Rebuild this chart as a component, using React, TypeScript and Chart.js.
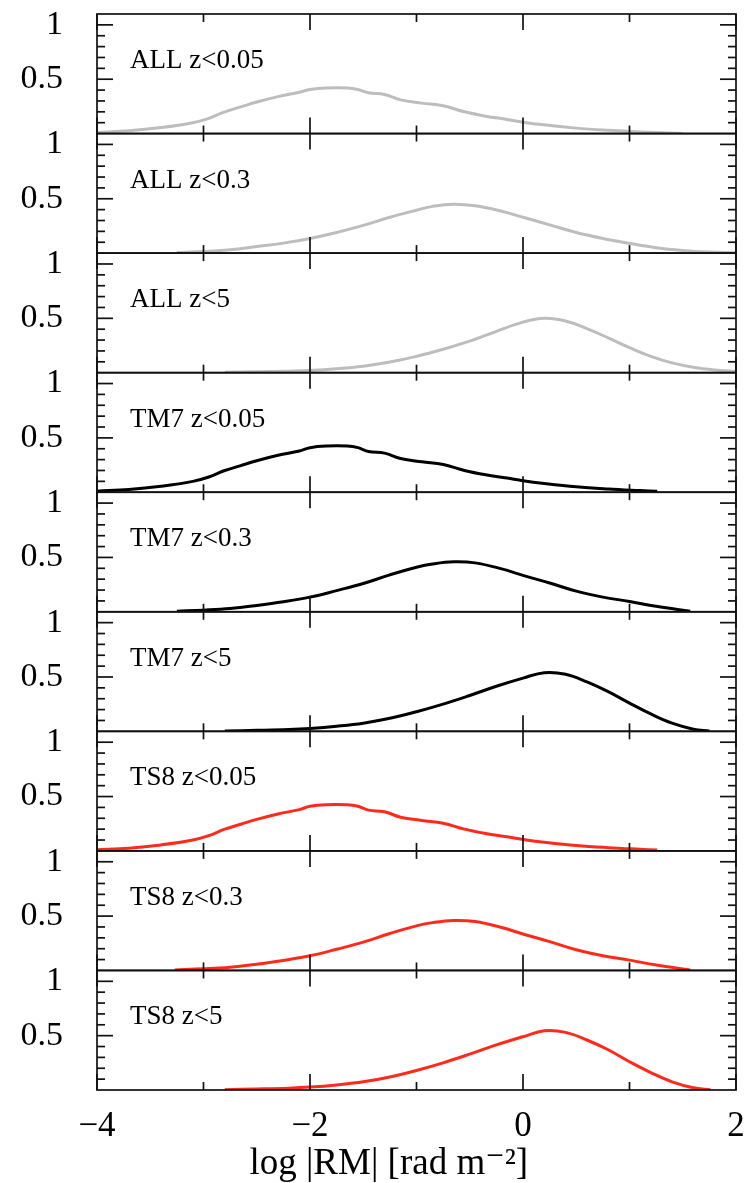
import React, { useEffect, useRef } from 'react';
import { Chart, registerables } from 'chart.js';

Chart.register(...registerables);

// ---- axis ticks ----
const xTickValues = [-4, -2, 0, 2];
const xTickLabels = ['−4', '−2', '0', '2'];
const xMinorTickValues = [-3, -1, 1];
const yTickValues = [0.5, 1];
const yTickLabels = ['0.5', '1'];
const yMinorTickValues = [0.1, 0.2, 0.3, 0.4, 0.6, 0.7, 0.8, 0.9];
const xTitle = 'log |RM| [rad m⁻²]\u00a0\u00a0\u00a0\u00a0\u00a0\u00a0';

// ---- panels ----
const panelLabels = [
  'ALL z<0.05', 'ALL z<0.3', 'ALL z<5',
  'TM7 z<0.05', 'TM7 z<0.3', 'TM7 z<5',
  'TS8 z<0.05', 'TS8 z<0.3', 'TS8 z<5',
];
const panelColors = [
  '#bdbdbd', '#bdbdbd', '#bdbdbd',
  '#000000', '#000000', '#000000',
  '#ff2a1a', '#ff2a1a', '#ff2a1a',
];

// ---- series: ALL ----
const allZ005X = [-4.0, -3.7, -3.4, -3.1, -2.95, -2.8, -2.65, -2.5, -2.3, -2.1, -2.0, -1.85, -1.65, -1.55, -1.45, -1.3, -1.15, -0.95, -0.75, -0.55, -0.35, -0.15, 0.0, 0.2, 0.5, 0.8, 1.1, 1.5];
const allZ005Y = [0.01, 0.025, 0.055, 0.1, 0.14, 0.2, 0.245, 0.29, 0.34, 0.38, 0.405, 0.42, 0.42, 0.405, 0.375, 0.36, 0.31, 0.28, 0.255, 0.2, 0.16, 0.13, 0.105, 0.08, 0.05, 0.03, 0.015, 0.0];

const allZ03X = [-3.25, -3.0, -2.75, -2.5, -2.25, -2.0, -1.75, -1.5, -1.25, -1.0, -0.85, -0.65, -0.45, -0.2, 0.0, 0.25, 0.5, 0.75, 1.0, 1.25, 1.5, 1.75, 2.0];
const allZ03Y = [0.005, 0.015, 0.03, 0.06, 0.092, 0.135, 0.19, 0.255, 0.33, 0.395, 0.43, 0.45, 0.435, 0.385, 0.33, 0.26, 0.19, 0.135, 0.09, 0.05, 0.025, 0.01, 0.003];

const allZ5X = [-2.8, -2.5, -2.2, -2.0, -1.75, -1.5, -1.25, -1.0, -0.75, -0.5, -0.25, 0.0, 0.2, 0.4, 0.6, 0.8, 1.0, 1.2, 1.4, 1.6, 1.8, 2.0];
const allZ5Y = [0.003, 0.008, 0.014, 0.02, 0.036, 0.06, 0.098, 0.15, 0.215, 0.29, 0.38, 0.465, 0.5, 0.475, 0.405, 0.32, 0.23, 0.15, 0.09, 0.05, 0.025, 0.01];

// ---- series: TM7 ----
const tm7Z005X = [-4.0, -3.7, -3.4, -3.1, -2.95, -2.8, -2.65, -2.5, -2.3, -2.1, -2.0, -1.85, -1.65, -1.55, -1.45, -1.3, -1.15, -0.95, -0.75, -0.55, -0.35, -0.15, 0.0, 0.2, 0.5, 0.8, 1.1, 1.26];
const tm7Z005Y = [0.01, 0.025, 0.055, 0.1, 0.14, 0.2, 0.245, 0.29, 0.34, 0.38, 0.41, 0.425, 0.425, 0.41, 0.375, 0.36, 0.31, 0.28, 0.255, 0.2, 0.16, 0.13, 0.105, 0.08, 0.05, 0.03, 0.015, 0.008];

const tm7Z03X = [-3.25, -3.0, -2.75, -2.5, -2.25, -2.0, -1.75, -1.5, -1.25, -1.0, -0.85, -0.65, -0.45, -0.2, 0.0, 0.25, 0.5, 0.75, 1.0, 1.25, 1.57];
const tm7Z03Y = [0.005, 0.015, 0.03, 0.058, 0.092, 0.135, 0.195, 0.26, 0.34, 0.41, 0.44, 0.46, 0.45, 0.395, 0.335, 0.265, 0.19, 0.135, 0.095, 0.05, 0.005];

const tm7Z5X = [-2.8, -2.5, -2.2, -2.0, -1.75, -1.5, -1.25, -1.0, -0.75, -0.5, -0.25, 0.0, 0.2, 0.4, 0.6, 0.8, 1.0, 1.2, 1.4, 1.6, 1.75];
const tm7Z5Y = [0.003, 0.009, 0.017, 0.027, 0.047, 0.075, 0.12, 0.18, 0.25, 0.33, 0.415, 0.49, 0.54, 0.525, 0.455, 0.365, 0.26, 0.16, 0.075, 0.02, 0.003];

// ---- series: TS8 ----
const ts8Z005X = [-4.0, -3.7, -3.4, -3.1, -2.95, -2.8, -2.65, -2.5, -2.3, -2.1, -2.0, -1.85, -1.65, -1.55, -1.45, -1.3, -1.15, -0.95, -0.75, -0.55, -0.35, -0.15, 0.0, 0.2, 0.5, 0.8, 1.1, 1.26];
const ts8Z005Y = [0.01, 0.025, 0.055, 0.1, 0.14, 0.2, 0.245, 0.29, 0.34, 0.38, 0.41, 0.425, 0.425, 0.41, 0.375, 0.36, 0.31, 0.28, 0.255, 0.2, 0.16, 0.13, 0.105, 0.08, 0.05, 0.03, 0.015, 0.008];

const ts8Z03X = [-3.27, -3.0, -2.75, -2.5, -2.25, -2.0, -1.75, -1.5, -1.25, -1.0, -0.85, -0.65, -0.45, -0.2, 0.0, 0.25, 0.5, 0.75, 1.0, 1.25, 1.57];
const ts8Z03Y = [0.005, 0.015, 0.03, 0.058, 0.092, 0.135, 0.195, 0.26, 0.34, 0.41, 0.44, 0.46, 0.45, 0.395, 0.335, 0.265, 0.19, 0.135, 0.095, 0.05, 0.005];

const ts8Z5X = [-2.8, -2.5, -2.2, -2.0, -1.75, -1.5, -1.25, -1.0, -0.75, -0.5, -0.25, 0.0, 0.2, 0.4, 0.6, 0.8, 1.0, 1.2, 1.4, 1.6, 1.76];
const ts8Z5Y = [0.003, 0.009, 0.017, 0.027, 0.047, 0.075, 0.12, 0.18, 0.25, 0.33, 0.415, 0.49, 0.545, 0.53, 0.46, 0.37, 0.26, 0.16, 0.075, 0.02, 0.003];

const seriesX = [allZ005X, allZ03X, allZ5X, tm7Z005X, tm7Z03X, tm7Z5X, ts8Z005X, ts8Z03X, ts8Z5X];
const seriesY = [allZ005Y, allZ03Y, allZ5Y, tm7Z005Y, tm7Z03Y, tm7Z5Y, ts8Z005Y, ts8Z03Y, ts8Z5Y];

const SERIF = '"Liberation Serif", "DejaVu Serif", serif';

const framePlugin = {
  id: 'panelFrames',
  afterDatasetsDraw(chart: any) {
    const ctx = chart.ctx;
    const xs = chart.scales.x;
    const left = xs.left;
    const right = xs.right;
    ctx.save();
    ctx.strokeStyle = '#111';
    ctx.lineWidth = 1.7;
    const seg = (x1: number, y1: number, x2: number, y2: number) => {
      ctx.beginPath();
      ctx.moveTo(x1, y1);
      ctx.lineTo(x2, y2);
      ctx.stroke();
    };
    panelLabels.forEach((label, i) => {
      const s = chart.scales['y' + i];
      const top = s.top;
      const bottom = s.bottom;
      ctx.strokeRect(left, top, right - left, bottom - top);
      yMinorTickValues.forEach((v) => {
        const py = s.getPixelForValue(v);
        seg(left, py, left + 8, py);
        seg(right, py, right - 8, py);
      });
      yTickValues.forEach((v) => {
        const py = s.getPixelForValue(v);
        seg(left, py, left + 16, py);
        seg(right, py, right - 16, py);
      });
      xMinorTickValues.forEach((v) => {
        const px = xs.getPixelForValue(v);
        seg(px, top, px, top + 8);
        seg(px, bottom, px, bottom - 8);
      });
      xTickValues.forEach((v) => {
        const px = xs.getPixelForValue(v);
        seg(px, top, px, top + 16);
        seg(px, bottom, px, bottom - 16);
      });
      ctx.fillStyle = '#000';
      ctx.font = '27px ' + SERIF;
      ctx.textAlign = 'left';
      ctx.textBaseline = 'alphabetic';
      ctx.fillText(label, left + 33, top + 54);
    });
    ctx.restore();
  },
};

export default function App() {
  const ref = useRef<HTMLCanvasElement | null>(null);

  useEffect(() => {
    if (!ref.current) return;
    const scales: any = {
      x: {
        type: 'linear',
        position: 'bottom',
        min: -4,
        max: 2,
        grid: { display: false, drawTicks: false },
        border: { display: false },
        afterBuildTicks: (s: any) => {
          s.ticks = xTickValues.map((v) => ({ value: v }));
        },
        afterFit: (s: any) => {
          s.height = 93;
          s.paddingLeft = 0;
          s.paddingRight = 0;
        },
        ticks: {
          autoSkip: false,
          maxRotation: 0,
          padding: 16,
          color: '#000',
          font: { family: SERIF, size: 35 },
          callback: (_v: any, i: number) => xTickLabels[i],
        },
        title: {
          display: true,
          text: xTitle,
          color: '#000',
          padding: { top: 0, bottom: 0 },
          font: { family: SERIF, size: 37, lineHeight: 1 },
        },
      },
    };
    panelLabels.forEach((_l, i) => {
      scales['y' + i] = {
        type: 'linear',
        position: 'left',
        stack: 'panels',
        stackWeight: 1,
        weight: 9 - i,
        min: 0,
        max: 1.1,
        grid: { display: false, drawTicks: false },
        border: { display: false },
        afterBuildTicks: (s: any) => {
          s.ticks = yTickValues.map((v) => ({ value: v }));
        },
        afterFit: (s: any) => {
          s.width = 97;
          s.paddingTop = 0;
          s.paddingBottom = 0;
        },
        ticks: {
          autoSkip: false,
          padding: 34,
          color: '#000',
          font: { family: SERIF, size: 34 },
          callback: (_v: any, j: number) => yTickLabels[j],
        },
      };
    });

    const datasets = panelLabels.map((label, i) => ({
      label,
      data: seriesX[i].map((x, k) => ({ x, y: seriesY[i][k] })),
      xAxisID: 'x',
      yAxisID: 'y' + i,
      borderColor: panelColors[i],
      borderWidth: 3,
      pointRadius: 0,
      fill: false,
      tension: 0.4,
    }));

    const chart = new Chart(ref.current, {
      type: 'line',
      data: { datasets },
      options: {
        responsive: false,
        maintainAspectRatio: false,
        animation: false,
        parsing: false,
        layout: { padding: { top: 14, right: 8, left: 0, bottom: 0 } },
        plugins: { legend: { display: false }, tooltip: { enabled: false } },
        scales,
      },
      plugins: [framePlugin],
    });
    return () => chart.destroy();
  }, []);

  return (
    <div style={{ position: 'absolute', left: 0, top: 0, width: 744, height: 1183, background: '#fff' }}>
      <canvas ref={ref} width={744} height={1183} style={{ width: 744, height: 1183 }} />
    </div>
  );
}
